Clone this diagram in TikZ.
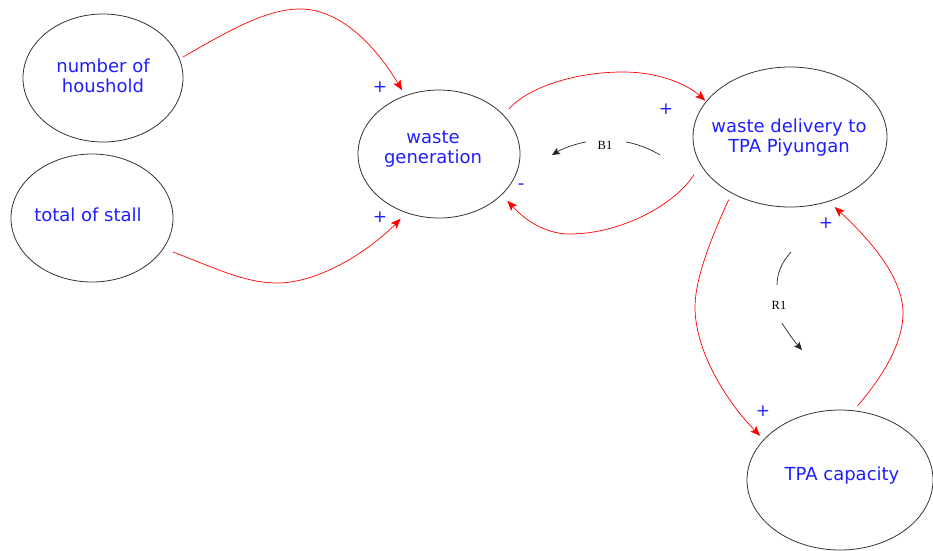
\documentclass[tikz,border=0pt]{standalone}
\usepackage{fontspec}
\setmainfont{DejaVu Sans}
\newfontfamily\loopfont{Liberation Serif}
\usetikzlibrary{shapes.geometric,arrows.meta}
\definecolor{varblue}{RGB}{30,30,255}
\definecolor{linkred}{RGB}{255,0,0}
\definecolor{rimgray}{RGB}{50,50,50}
\begin{document}
\begin{tikzpicture}[x=1pt,y=-1pt,
  var/.style={draw=rimgray,line width=0.8pt,ellipse,inner sep=0pt},
  vtext/.style={text=varblue,font=\fontsize{18}{20}\selectfont,align=center,inner sep=0pt},
  sign/.style={text=varblue,font=\fontsize{17}{17}\selectfont,inner sep=0pt},
  link/.style={draw=linkred,line width=0.7pt,-{Stealth[length=10pt,width=8pt,inset=2pt]}},
  loopmark/.style={draw=black!85,line width=0.7pt},
  looptip/.style={-{Stealth[length=8pt,width=7pt,inset=1.5pt]}},
  looplabel/.style={font=\loopfont\fontsize{12.5}{12.5}\selectfont,inner sep=1pt}]
\useasboundingbox (0,0) rectangle (933,550);

% variables
\node[var,minimum width=160pt,minimum height=128pt] (hh) at (103,78) {};
\node[var,minimum width=162pt,minimum height=128pt] (ts) at (92,218) {};
\node[var,minimum width=162pt,minimum height=128pt] (wg) at (439,154) {};
\node[var,minimum width=194pt,minimum height=140pt] (wd) at (790,137) {};
\node[var,minimum width=186pt,minimum height=140pt] (tc) at (840,480) {};

\node[vtext] (hhtext) at (103,76) {number of\\houshold};
\node[vtext] (tstext) at (88,215) {total of stall};
\node[vtext] (wgtext) at (433,149) {waste\\generation};
\node[vtext] (wdtext) at (789,138) {waste delivery to\\TPA Piyungan};
\node[vtext] (tctext) at (842,476) {TPA capacity};

% causal links
\draw[link,shorten <=4pt,shorten >=6pt] (hh.14)
  .. controls (225,33) and (265,9) .. (300,9)
  .. controls (340,9) and (375,45) .. (wg.120);
\draw[link,shorten <=10pt,shorten >=8pt] (ts.-23)
  .. controls (215,268) and (245,283) .. (277,283)
  .. controls (320,283) and (370,250) .. (wg.241);
\draw[link,shorten <=8pt,shorten >=1pt] (wg.31)
  .. controls (525,90) and (570,72) .. (623,72)
  .. controls (660,72) and (688,85) .. (wd.157);
\draw[link,shorten <=12pt,shorten >=8pt] (wd.197)
  .. controls (675,205) and (620,234) .. (570,234)
  .. controls (545,234) and (525,220) .. (wg.-33);
\draw[link,shorten <=7pt,shorten >=5pt] (wd.224)
  .. controls (710,240) and (695,280) .. (695,307)
  .. controls (695,350) and (725,400) .. (tc.152);
\draw[link,shorten <=6pt,shorten >=8pt] (tc.79)
  .. controls (880,380) and (903,345) .. (903,313)
  .. controls (903,275) and (865,235) .. (wd.-59);

% polarities
\node[sign] (s1) at (380,87) {+};
\node[sign] (s2) at (380,217) {+};
\node[sign] (s3) at (666,109) {+};
\node[sign,font=\fontsize{18}{18}\selectfont] (s4) at (521,187) {-};
\node[sign] (s5) at (826,223) {+};
\node[sign] (s6) at (763,411) {+};

% loop markers
\coordinate (bc) at (606,245);
\draw[loopmark] (bc) ++(-59:105) arc[start angle=-59,end angle=-79,radius=105];
\draw[loopmark,looptip] (bc) ++(-101:105) arc[start angle=-101,end angle=-121,radius=105];
\node[looplabel] (b1) at (605,145) {B1};

\coordinate (r1a) at (791,252);
\coordinate (r1b) at (777,285);
\coordinate (r1c) at (782,323);
\coordinate (r1d) at (802,350);
\draw[loopmark] (r1a) .. controls (782,262) and (777,273) .. (r1b);
\draw[loopmark,looptip] (r1c) .. controls (788,333) and (795,342) .. (r1d);
\node[looplabel] (r1) at (779,305) {R1};
\end{tikzpicture}
\end{document}
